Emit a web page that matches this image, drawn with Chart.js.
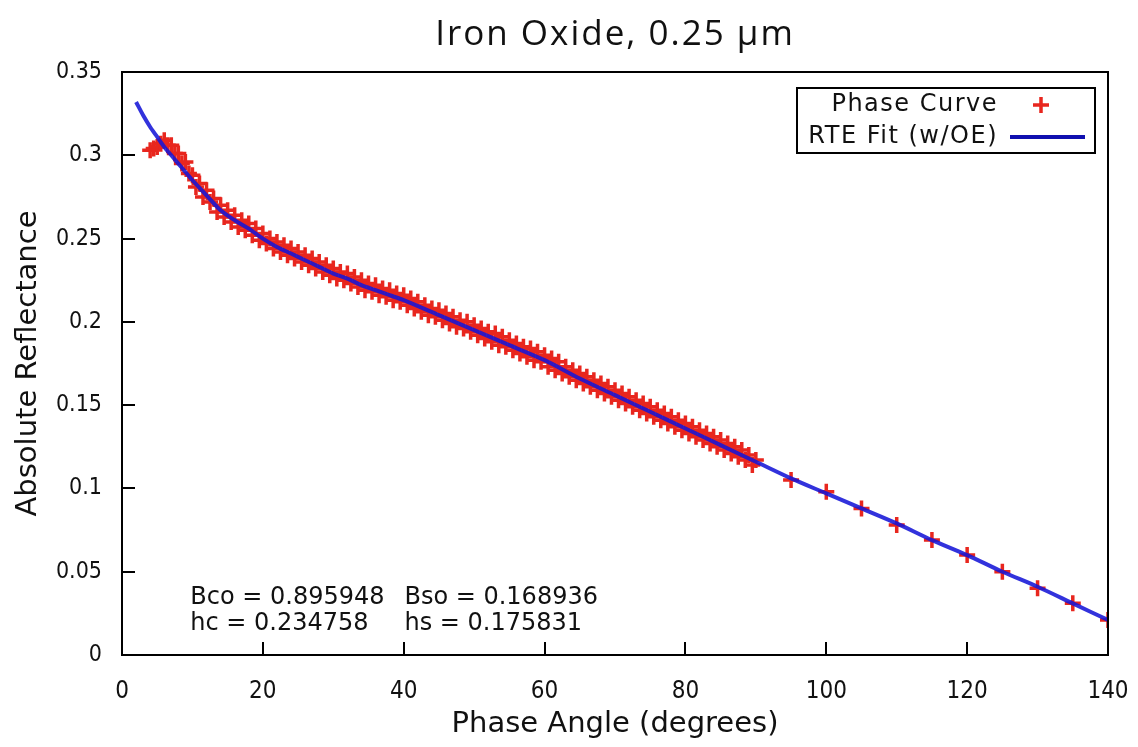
<!DOCTYPE html>
<html>
<head>
<meta charset="utf-8">
<script src="https://cdn.jsdelivr.net/npm/chart.js@4.4.1/dist/chart.umd.min.js"></script>
<style>
  html, body { margin: 0; padding: 0; background: #ffffff; }
  #wrap { width: 1138px; height: 747px; }
</style>
</head>
<body>
<div id="wrap"><canvas id="c" width="1138" height="747"></canvas></div>
<script>
// Measured phase curve (phase angle in degrees, absolute reflectance)
const phaseAngles = [
  4, 4.5, 5, 5.5, 6, 6.5, 7, 7.5, 8, 8.5, 9, 9.5, 10, 10.5, 11, 11.5, 12, 12.5, 13, 13.5,
  14, 14.5, 15, 15.5, 16, 16.5, 17, 17.5, 18, 18.5, 19, 19.5, 20, 20.5, 21, 21.5, 22, 22.5, 23, 23.5,
  24, 24.5, 25, 25.5, 26, 26.5, 27, 27.5, 28, 28.5, 29, 29.5, 30, 30.5, 31, 31.5, 32, 32.5, 33, 33.5,
  34, 34.5, 35, 35.5, 36, 36.5, 37, 37.5, 38, 38.5, 39, 39.5, 40, 40.5, 41, 41.5, 42, 42.5, 43, 43.5,
  44, 44.5, 45, 45.5, 46, 46.5, 47, 47.5, 48, 48.5, 49, 49.5, 50, 50.5, 51, 51.5, 52, 52.5, 53, 53.5,
  54, 54.5, 55, 55.5, 56, 56.5, 57, 57.5, 58, 58.5, 59, 59.5, 60, 60.5, 61, 61.5, 62, 62.5, 63, 63.5,
  64, 64.5, 65, 65.5, 66, 66.5, 67, 67.5, 68, 68.5, 69, 69.5, 70, 70.5, 71, 71.5, 72, 72.5, 73, 73.5,
  74, 74.5, 75, 75.5, 76, 76.5, 77, 77.5, 78, 78.5, 79, 79.5, 80, 80.5, 81, 81.5, 82, 82.5, 83, 83.5,
  84, 84.5, 85, 85.5, 86, 86.5, 87, 87.5, 88, 88.5, 89, 89.5, 90,
  95, 100, 105, 110, 115, 120, 125, 130, 135, 140
];
const reflectance = [
  0.303, 0.304, 0.305, 0.307, 0.309, 0.306, 0.306, 0.301, 0.301, 0.295, 0.296, 0.289, 0.288, 0.281, 0.283, 0.275, 0.279, 0.272, 0.274, 0.266,
  0.270, 0.263, 0.267, 0.260, 0.264, 0.257, 0.261, 0.255, 0.259, 0.252, 0.256, 0.249, 0.253, 0.247, 0.250, 0.244, 0.248, 0.242, 0.246, 0.240,
  0.244, 0.238, 0.242, 0.236, 0.240, 0.234, 0.238, 0.232, 0.236, 0.230, 0.234, 0.228, 0.232, 0.226, 0.230, 0.225, 0.229, 0.223, 0.227, 0.221,
  0.225, 0.219, 0.223, 0.218, 0.222, 0.216, 0.220, 0.215, 0.219, 0.213, 0.217, 0.212, 0.216, 0.210, 0.214, 0.208, 0.212, 0.206, 0.210, 0.204,
  0.208, 0.203, 0.207, 0.201, 0.205, 0.199, 0.203, 0.197, 0.201, 0.196, 0.200, 0.194, 0.198, 0.192, 0.196, 0.190, 0.194, 0.188, 0.193, 0.186,
  0.191, 0.185, 0.189, 0.183, 0.187, 0.181, 0.185, 0.179, 0.184, 0.177, 0.182, 0.176, 0.180, 0.173, 0.178, 0.171, 0.176, 0.169, 0.173, 0.167,
  0.171, 0.165, 0.169, 0.163, 0.167, 0.161, 0.165, 0.159, 0.163, 0.157, 0.161, 0.155, 0.159, 0.153, 0.157, 0.151, 0.155, 0.149, 0.153, 0.147,
  0.151, 0.145, 0.149, 0.143, 0.147, 0.141, 0.145, 0.139, 0.143, 0.137, 0.141, 0.135, 0.139, 0.133, 0.137, 0.131, 0.135, 0.129, 0.133, 0.127,
  0.131, 0.125, 0.129, 0.123, 0.127, 0.121, 0.125, 0.119, 0.123, 0.117, 0.120, 0.114, 0.117,
  0.105, 0.098, 0.088, 0.078, 0.069, 0.060, 0.050, 0.040, 0.031, 0.021
];

// Radiative-transfer model fit (with opposition effect)
const fitAngles = [
  2, 3, 4, 5, 6, 7, 8, 9, 10, 12, 14, 16, 18, 20, 22, 24, 26, 28, 30, 32,
  34, 36, 38, 40, 45, 50, 55, 60, 65, 70, 75, 80, 85, 90, 95, 100, 105, 110, 115, 120,
  125, 130, 135, 140
];
const fitValues = [
  0.332, 0.324, 0.317, 0.311, 0.305, 0.300, 0.295, 0.290, 0.285, 0.276, 0.267, 0.261, 0.256, 0.250, 0.245, 0.241, 0.237, 0.233, 0.229, 0.226,
  0.222, 0.219, 0.216, 0.213, 0.204, 0.195, 0.186, 0.177, 0.166, 0.156, 0.146, 0.136, 0.126, 0.116, 0.106, 0.097, 0.088, 0.079, 0.069, 0.060,
  0.050, 0.041, 0.031, 0.021
];

const xTicks = [0, 20, 40, 60, 80, 100, 120, 140];
const yTicks = [0, 0.05, 0.1, 0.15, 0.2, 0.25, 0.3, 0.35];

const chartTitle = 'Iron Oxide, 0.25 μm';
const fitParams = [
  'Bco = 0.895948', 'Bso = 0.168936',
  'hc = 0.234758', 'hs = 0.175831'
];

const condensed = '"DejaVu Sans Condensed", "DejaVu Sans", sans-serif';
const regular = '"DejaVu Sans", sans-serif';

function setSpacing(ctx, px) {
  if ('letterSpacing' in ctx) ctx.letterSpacing = px + 'px';
}

// Title, plot frame, inward tick marks, key box and fit parameter labels
const framePlugin = {
  id: 'frame',
  afterDatasetsDraw(chart) {
    const { ctx, chartArea: a, scales } = chart;
    ctx.save();

    // Title
    ctx.fillStyle = '#111';
    ctx.font = '35px "Open Sans", sans-serif';
    ctx.textAlign = 'center';
    ctx.textBaseline = 'middle';
    setSpacing(ctx, 2);
    ctx.fillText(chartTitle, (a.left + a.right) / 2, 35);
    setSpacing(ctx, 0);

    ctx.strokeStyle = '#000';
    ctx.lineWidth = 2;
    ctx.strokeRect(a.left, a.top, a.right - a.left, a.bottom - a.top);
    ctx.beginPath();
    xTicks.forEach(v => {
      const px = Math.round(scales.x.getPixelForValue(v));
      ctx.moveTo(px, a.bottom);
      ctx.lineTo(px, a.bottom - 13);
    });
    yTicks.forEach(v => {
      const py = Math.round(scales.y.getPixelForValue(v));
      ctx.moveTo(a.left, py);
      ctx.lineTo(a.left + 13, py);
    });
    ctx.stroke();

    // Fit parameters
    ctx.fillStyle = '#111';
    ctx.font = '24px ' + regular;
    ctx.textBaseline = 'middle';
    ctx.textAlign = 'left';
    const y1 = scales.y.getPixelForValue(0.0342);
    const y2 = scales.y.getPixelForValue(0.0186);
    const c1 = scales.x.getPixelForValue(9.7);
    const c2 = scales.x.getPixelForValue(40.1);
    ctx.fillText(fitParams[0], c1, y1);
    ctx.fillText(fitParams[1], c2, y1);
    ctx.fillText(fitParams[2], c1, y2);
    ctx.fillText(fitParams[3], c2, y2);

    // Key
    const ds = chart.data.datasets;
    const bx = a.right - 311, by = a.top + 16, bw = 298, bh = 65;
    ctx.fillStyle = '#fff';
    ctx.fillRect(bx, by, bw, bh);
    ctx.strokeStyle = '#000';
    ctx.lineWidth = 2;
    ctx.strokeRect(bx, by, bw, bh);
    ctx.font = '24px ' + regular;
    ctx.fillStyle = '#111';
    ctx.textAlign = 'right';
    setSpacing(ctx, 1.5);
    const tx = bx + 201;
    const r1 = by + 17, r2 = by + 49;
    ctx.fillText(ds[0].label, tx, r1);
    ctx.fillText(ds[1].label, tx, r2);
    setSpacing(ctx, 0);
    // cross sample
    ctx.strokeStyle = ds[0].borderColor;
    ctx.lineWidth = 3.5;
    ctx.beginPath();
    const cx = bx + 244;
    ctx.moveTo(cx - 8, r1); ctx.lineTo(cx + 8, r1);
    ctx.moveTo(cx, r1 - 8); ctx.lineTo(cx, r1 + 8);
    ctx.stroke();
    // line sample
    ctx.strokeStyle = '#1010b0';
    ctx.lineWidth = 4;
    ctx.beginPath();
    ctx.moveTo(bx + 213, r2);
    ctx.lineTo(bx + 288, r2);
    ctx.stroke();
    ctx.restore();
  }
};

new Chart(document.getElementById('c'), {
  type: 'scatter',
  data: {
    datasets: [
      {
        label: 'Phase Curve',
        data: phaseAngles.map((x, i) => ({ x, y: reflectance[i] })),
        pointStyle: 'cross',
        pointRadius: 8,
        borderColor: '#e8261e',
        backgroundColor: '#e8261e',
        pointBorderWidth: 3.5,
        showLine: false,
        order: 1
      },
      {
        label: 'RTE Fit (w/OE)',
        data: fitAngles.map((x, i) => ({ x, y: fitValues[i] })),
        showLine: true,
        borderColor: 'rgba(22, 22, 215, 0.88)',
        borderWidth: 4,
        pointRadius: 0,
        tension: 0.3,
        order: 0
      }
    ]
  },
  options: {
    responsive: false,
    animation: false,
    layout: { padding: { right: 30, left: 0, top: 72, bottom: 0 } },
    plugins: {
      legend: { display: false },
      tooltip: { enabled: false },
      title: { display: false }
    },
    scales: {
      x: {
        type: 'linear',
        min: 0, max: 140,
        afterFit: s => { s.height = 92; s.paddingLeft = 0; s.paddingRight = 0; },
        grid: { display: false, drawTicks: false },
        border: { display: false },
        ticks: {
          stepSize: 20,
          padding: 22,
          color: '#111',
          font: { family: condensed, size: 24 },
          maxRotation: 0
        },
        title: {
          display: true,
          text: 'Phase Angle (degrees)',
          color: '#111',
          font: { family: regular, size: 29 },
          padding: { top: 0, bottom: 5 }
        }
      },
      y: {
        type: 'linear',
        min: 0, max: 0.35,
        afterFit: s => { s.width = 122; s.paddingTop = 0; s.paddingBottom = 0; },
        grid: { display: false, drawTicks: false },
        border: { display: false },
        ticks: {
          stepSize: 0.05,
          padding: 20,
          color: '#111',
          font: { family: condensed, size: 23 },
          callback: v => String(+v.toFixed(2))
        },
        title: {
          display: true,
          text: 'Absolute Reflectance',
          color: '#111',
          font: { family: regular, size: 29 },
          padding: { top: 11, bottom: 0 }
        }
      }
    }
  },
  plugins: [framePlugin]
});
</script>
</body>
</html>
